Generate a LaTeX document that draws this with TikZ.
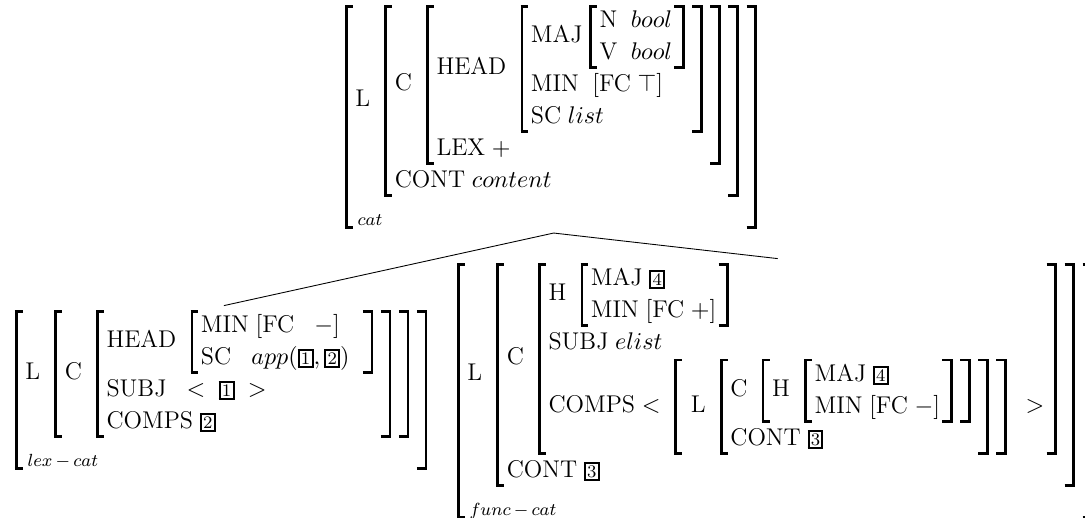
\documentclass[tikz,border=0pt]{standalone}
\usepackage{amsmath,amssymb}
\usepackage{fontspec}
\usepackage{tikz}
\newlength{\brw}\setlength{\brw}{1.2pt}
\newlength{\srf}\setlength{\srf}{3.5pt}
\renewcommand{\arraystretch}{1.1}
\newcommand{\ft}[1]{\text{\addfontfeature{LetterSpace=4}#1}}
\newcommand{\tg}[1]{\text{\setlength{\fboxsep}{0.6pt}\setlength{\fboxrule}{0.9pt}\fbox{\footnotesize #1}}}
\newcommand{\lbrk}{\vrule width\srf height\ht0 depth-\dimexpr\ht0-\brw\relax\kern-\srf
  \vrule width\srf height-\dimexpr\dp0-\brw\relax depth\dp0\kern-\srf
  \vrule width\brw height\ht0 depth\dp0\relax}
\newcommand{\rbrk}{\kern-\srf\vrule width\dimexpr\srf+\brw\relax height\ht0 depth-\dimexpr\ht0-\brw\relax
  \kern-\dimexpr\srf+\brw\relax
  \vrule width\dimexpr\srf+\brw\relax height-\dimexpr\dp0-\brw\relax depth\dp0
  \kern-\brw\vrule width\brw height\ht0 depth\dp0\relax}
\newcommand{\avm}[1]{\setbox0=\hbox{$\begin{array}{@{\hspace{3.5pt}}l@{\hspace{4.5pt}}}#1\end{array}$}\lbrk\copy0\rbrk\kern2.5pt}
\newcommand{\sortavm}[2]{\avm{#2\\ \hspace{1pt}\lower3pt\hbox{$\scriptstyle #1$}}}
\newcommand{\sep}{\hspace{6.5pt}}
\tikzset{avmnode/.style={inner sep=0pt, outer sep=2pt, anchor=north west, font=\fontsize{11}{13.2}\selectfont}}

\begin{document}
\begin{tikzpicture}[x=0.4545pt, y=-0.4545pt]
  \useasboundingbox (0,0) rectangle (1085,517);

  \node[avmnode] (cat) at (340.6,0.6) {$\sortavm{cat}{\ft{L}\sep\avm{\ft{C}\sep\avm{\ft{HEAD}\sep\avm{\ft{MAJ}\;\avm{\ft{N}\;\;bool\\ \ft{V}\;\;bool}\\ \ft{MIN}\;\;[\ft{FC}\;\top]\\ \ft{SC}\;list}\\ \ft{LEX}\;+}\\ \ft{CONT}\;content}}$};

  \node[avmnode] (lex) at (10.6,305.6) {$\sortavm{lex\,{-}\,cat}{\ft{L}\sep\avm{\ft{C}\sep\avm{\ft{HEAD}\sep\avm{\ft{MIN}\;[\ft{FC}\;\;\;{-}]\\ \ft{SC}\;\;\;app(\tg{1},\tg{2})\hspace{5pt}}\\ \ft{SUBJ}\;\;<\;\tg{1}\;>\\ \ft{COMPS}\;\tg{2}}}}$};

  \node[avmnode] (func) at (452.6,258.6) {$\sortavm{func\,{-}\,cat}{\ft{L}\sep\avm{\ft{C}\sep\avm{\ft{H}\sep\avm{\ft{MAJ}\;\tg{4}\\ \ft{MIN}\;[\ft{FC}\;+]}\\ \ft{SUBJ}\;elist\\ \ft{COMPS}<\;\;\avm{\ft{L}\sep\avm{\ft{C}\sep\avm{\ft{H}\sep\avm{\ft{MAJ}\;\tg{4}\\ \ft{MIN}\;[\ft{FC}\;{-}]}}\\ \ft{CONT}\;\tg{3}}}\;>}\\ \ft{CONT}\;\tg{3}}}$};

  \draw (cat.south) -- (lex.north);
  \draw (cat.south) -- (func.north);
\end{tikzpicture}
\end{document}
